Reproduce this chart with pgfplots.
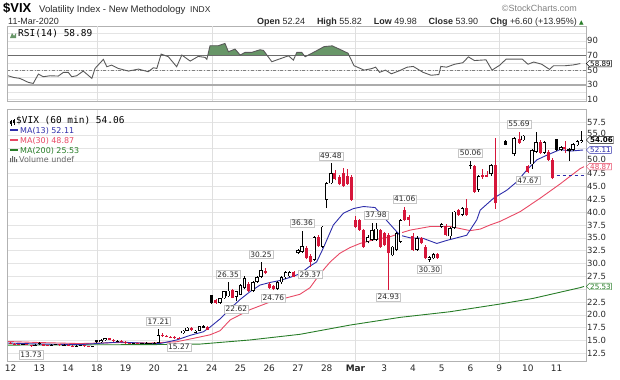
\documentclass[border=0pt]{standalone}
\usepackage{pgfplots}
\pgfplotsset{compat=1.18}
\usepackage{pgfplotstable}
\usepackage{fontspec}
\setmainfont{Liberation Sans}
\newfontfamily\dv{DejaVu Sans}
\newfontfamily\dvm{DejaVu Sans Mono}
\usetikzlibrary{shapes.symbols}
\definecolor{cred}{RGB}{214,22,58}
\definecolor{mablue}{RGB}{45,45,170}
\definecolor{mared}{RGB}{232,72,100}
\definecolor{magreen}{RGB}{40,125,40}
\definecolor{rsigreen}{RGB}{104,150,104}
\definecolor{gridc}{RGB}{228,228,228}
\definecolor{txt}{RGB}{40,40,40}

% hollow (close > open)
\pgfplotstableread{
x o h l c
0.429 14.2 14.4 14.1 14.3
0.857 14.0 14.3 13.9 14.2
1.429 14.0 14.3 13.95 14.2
1.571 14.2 14.35 14.1 14.3
1.857 14.1 14.3 14.0 14.2
2.286 13.9 14.1 13.8 14.0
2.429 14.0 14.1 13.9 14.05
2.857 13.75 13.9 13.7 13.85
3.143 14.7 15.3 14.6 15.1
3.286 15.0 15.5 14.9 15.4
3.714 14.8 15.0 14.7 14.95
4.286 14.4 14.6 14.3 14.5
4.571 14.35 14.5 14.3 14.45
4.857 14.4 14.6 14.35 14.5
5.000 14.4 14.8 14.35 14.6
5.143 14.6 17.21 14.5 16.1
6.000 16.4 17.0 16.3 16.9
6.143 16.9 17.6 16.8 17.5
6.429 16.5 17.0 16.4 16.9
6.571 16.9 17.9 16.8 17.8
6.714 17.5 18.0 17.4 17.8
7.286 22.3 23.3 22.2 23.2
7.429 23.2 24.7 23.1 24.6
7.571 23.6 26.35 23.4 24.7
7.857 23.5 24.7 22.62 24.6
8.000 23.9 26.0 23.8 25.8
8.143 25.2 27.6 25.0 27.2
8.429 24.6 26.6 24.4 26.4
8.571 26.4 27.6 26.2 27.4
8.714 27.4 30.25 27.2 28.7
9.286 25.0 26.5 24.9 26.3
9.429 26.3 27.5 26.1 27.3
9.571 27.3 28.5 27.0 28.3
9.714 27.5 28.6 27.3 28.3
10.000 32.0 32.8 31.8 32.6
10.143 32.3 36.36 32.1 33.4
10.571 30.7 35.4 30.5 35.2
10.857 33.3 37.4 33.1 37.2
11.000 42.4 45.8 40.8 45.6
11.143 45.6 49.48 45.4 47.6
12.429 34.2 35.5 33.9 35.2
12.571 34.6 37.8 34.4 36.5
12.714 34.6 37.98 34.4 36.8
13.286 31.6 33.5 31.4 33.3
13.429 32.6 36.1 32.4 35.9
13.571 34.2 38.7 34.0 38.5
14.143 32.7 35.3 32.5 35.0
14.571 30.7 31.5 30.30 31.3
14.714 31.0 32.0 30.8 31.9
15.000 37.2 37.9 37.0 37.6
15.286 35.3 37.1 34.8 36.9
15.429 36.9 40.3 36.7 40.1
15.714 39.5 41.0 39.2 40.8
16.000 48.9 50.06 48.5 49.2
16.286 44.3 47.2 44.0 47.0
16.714 47.4 49.3 47.0 49.2
17.510 51.3 54.6 51.0 54.4
17.830 54.0 55.1 53.8 54.9
18.143 49.3 52.3 48.5 52.1
18.286 51.8 55.6 51.5 53.7
18.571 51.6 53.9 51.4 53.7
19.143 52.1 52.8 51.9 52.6
19.429 52.0 52.5 49.98 52.3
19.571 52.2 53.4 51.9 53.2
19.714 53.0 54.1 52.8 53.9
19.857 53.7 55.82 53.5 54.06
}\upbars

% red filled (close < open)
\pgfplotstableread{
x o h l c
0.000 14.6 14.8 14.3 14.4
0.143 14.4 14.5 14.2 14.3
0.286 14.3 14.4 14.1 14.2
0.571 14.3 14.35 14.1 14.15
0.714 14.15 14.2 13.73 14.0
1.143 14.3 14.4 13.9 14.0
1.286 14.1 14.2 13.9 14.0
1.714 14.3 14.35 14.0 14.1
2.000 14.2 14.3 13.9 14.0
2.143 14.0 14.1 13.8 13.9
2.571 14.05 14.1 13.8 13.85
2.714 13.9 14.0 13.7 13.75
3.429 15.4 15.5 15.0 15.1
3.571 15.1 15.2 14.8 14.9
3.857 14.95 15.0 14.7 14.8
4.000 14.8 14.9 14.4 14.5
4.143 14.5 14.6 14.3 14.4
4.429 14.5 14.55 14.3 14.35
5.286 16.1 16.4 15.7 15.9
5.429 15.9 16.1 15.6 15.7
5.571 15.7 15.9 15.4 15.6
5.714 15.6 15.8 15.3 15.4
5.857 15.4 15.6 15.27 15.35
6.286 17.5 17.6 16.9 17.1
6.857 17.6 17.8 17.0 17.1
7.143 22.9 23.0 22.2 22.3
7.714 24.9 25.1 23.2 23.3
8.286 26.1 26.3 24.5 24.6
8.857 28.6 29.1 27.9 28.2
9.000 26.0 26.3 25.0 25.2
9.143 25.6 25.9 24.76 25.0
9.857 28.4 28.6 27.3 27.4
10.286 33.0 33.5 30.8 31.0
10.429 31.5 31.8 29.37 30.3
10.714 35.2 35.5 33.2 33.4
11.286 47.6 48.2 46.2 46.4
11.429 46.9 47.2 45.2 45.4
11.571 47.6 48.7 44.9 45.1
11.714 47.0 48.4 45.3 45.5
11.857 46.9 47.3 42.2 42.4
12.000 38.4 39.3 37.0 37.2
12.143 38.4 38.6 36.4 36.6
12.286 36.5 36.7 33.1 33.3
12.857 36.5 36.8 33.1 33.3
13.000 35.9 36.2 33.4 33.6
13.143 35.6 36.0 24.93 32.0
13.714 40.4 41.06 38.3 38.5
13.857 39.1 39.5 37.4 38.5
14.000 35.3 36.0 32.4 32.6
14.286 34.9 35.1 33.7 33.9
14.429 33.3 33.6 30.8 31.0
14.857 31.9 32.0 30.9 31.0
15.143 37.4 37.7 35.3 35.5
15.571 40.4 40.6 39.3 39.5
15.857 40.8 42.6 39.3 39.5
16.143 48.9 49.2 43.8 44.0
16.429 47.3 48.5 46.5 46.9
16.571 47.2 48.0 46.8 46.9
16.857 49.2 54.4 40.7 41.7
17.690 54.2 55.69 53.3 53.5
18.000 48.9 49.2 47.67 47.9
18.429 53.7 54.0 51.4 51.6
18.714 51.8 52.2 50.0 50.2
18.857 50.2 50.5 46.4 46.6
19.286 52.6 53.9 51.5 52.3
}\dnbars

% black filled
\pgfplotstableread{
x o h l c
1.000 14.6 14.7 14.2 14.3
3.000 15.0 15.1 14.6 14.7
4.714 14.6 14.7 14.3 14.4
7.000 23.86 23.9 22.2 22.3
17.220 53.9 54.0 53.0 53.1
19.000 54.2 54.3 52.0 52.1
}\bkbars

\pgfplotstableread{
x y
-0.09 14.5
1.03 14.3
2.42 14.2
3.81 14.7
4.85 14.4
5.20 14.4
5.78 15.1
6.25 16.0
6.71 16.7
6.94 17.6
7.29 19.2
7.64 21.2
7.99 23.0
8.33 24.5
8.68 25.8
9.03 26.3
9.38 26.7
9.73 27.3
10.07 28.0
10.42 29.5
10.65 30.3
10.88 33.0
11.23 37.5
11.58 39.8
11.93 40.7
12.28 41.1
12.68 40.9
12.97 39.1
13.32 36.9
13.55 35.5
13.90 35.0
14.35 34.9
14.83 33.9
15.18 34.5
15.87 35.5
16.22 38.5
16.34 40.4
16.80 42.7
17.27 44.3
17.61 45.9
17.96 48.2
18.31 50.2
18.66 51.1
19.12 52.2
19.47 51.9
19.92 52.11
}\maA

\pgfplotstableread{
x y
-0.09 14.8
1.00 14.6
2.40 14.4
3.80 14.6
4.85 14.5
5.78 14.75
6.35 15.4
6.94 16.1
7.29 16.9
7.64 19.0
8.33 21.0
9.03 22.5
9.73 23.5
10.07 24.0
10.42 25.3
10.77 28.0
11.12 30.3
11.46 32.0
11.81 33.1
12.16 33.9
12.62 34.6
13.20 35.2
13.55 35.9
13.90 36.5
14.60 37.2
15.30 37.2
15.99 36.4
16.34 36.7
16.68 37.5
17.03 38.2
17.73 40.1
18.42 42.7
19.12 45.5
19.82 48.5
19.95 48.87
}\maB

\pgfplotstableread{
x y
-0.09 14.1
5.00 14.2
6.60 14.3
8.33 15.1
10.07 16.2
11.81 18.0
13.55 19.5
15.29 20.6
17.03 22.1
18.18 23.2
19.82 25.3
19.95 25.53
}\maC

\pgfplotstableread{
x y
-0.08 42.3
0.10 40.1
0.33 38.7
0.62 33.3
0.79 31.9
0.97 44.6
1.14 41.0
1.37 42.3
1.66 41.9
1.84 46.9
2.01 46.9
2.13 41.0
2.30 42.3
2.53 48.7
2.83 38.7
2.94 52.3
3.23 64.6
3.35 54.6
3.52 56.8
3.75 52.3
4.10 48.7
4.45 51.4
4.79 47.8
4.97 53.2
5.09 52.3
5.24 71.8
5.49 68.2
5.78 54.6
5.96 70.5
6.25 62.3
6.53 68.6
6.77 67.3
6.83 64.6
6.94 83.2
7.23 83.2
7.46 86.3
7.58 75.0
7.81 78.6
7.99 70.5
8.16 74.1
8.39 74.1
8.68 77.7
8.80 76.8
9.09 61.4
9.67 69.5
9.84 63.6
9.96 74.1
10.13 74.1
10.25 68.2
10.63 76.0
10.91 82.0
11.19 83.0
11.47 78.0
11.74 73.0
11.95 56.0
12.30 50.0
12.56 52.0
12.70 54.0
12.84 47.0
13.04 50.0
13.25 45.0
13.52 49.0
13.80 54.0
14.01 55.0
14.35 47.0
14.63 43.0
14.90 44.0
14.97 55.0
15.17 54.0
15.45 58.0
15.73 60.0
15.93 68.0
16.14 63.0
16.54 64.0
16.75 50.0
17.03 57.0
17.24 65.0
17.80 65.0
18.00 58.0
18.20 61.0
18.48 58.0
18.75 51.0
18.89 56.0
19.30 56.0
19.57 57.0
19.82 58.89
}\rsidata

\pgfplotsset{
  wick/.style={draw=none, mark=none, forget plot,
    error bars/.cd, y dir=plus, y explicit, error mark=none,
    error bar style={line width=0.6pt, draw=#1, solid}},
  body/.style 2 args={draw=none, mark=none, forget plot,
    error bars/.cd, y dir=plus, y explicit, error mark=none,
    error bar style={line width=#2, draw=#1, solid}},
  tfont/.style={font=\dv\fontsize{8.5}{10}\selectfont, text=txt, inner sep=1pt},
  annot/.style={draw=none, mark=none, forget plot, point meta=explicit symbolic, nodes near coords,
    every node near coord/.append style={anchor=#1, draw=gray!45, fill=white,
    inner sep=1.2pt, font=\dv\fontsize{7.5}{8}\selectfont, text=txt}},
}
\tikzset{
  rbox/.style={signal, signal to=west, draw=#1, fill=white, inner sep=0.6pt, text=#1,
    font=\dv\fontsize{7.2}{8}\selectfont, anchor=west},
}

\begin{document}
\begin{tikzpicture}[x=1bp,y=1bp]
\useasboundingbox (0,0) rectangle (620,379);

% ---------------- RSI panel ----------------
\begin{axis}[
  at={(7.5bp,278bp)}, anchor=south west, scale only axis,
  width=578.5bp, height=75bp,
  xmin=-0.105, xmax=20.02, ymin=8, ymax=110, clip=false,
  axis line style={gray!60},
  xtick=\empty,
  extra x ticks={3,7,12,17}, extra x tick labels={},
  extra x tick style={grid=major, major grid style={gray!25}},
  ytick={10,20,30,40,50,60,70,80,90,100},
  yticklabels={10,,30,,50,,70,,90,},
  yticklabel pos=right, ymajorgrids, grid style={gridc},
  yticklabel style={tfont},
  major tick length=0pt,
]
\begin{scope}
\clip (axis cs:-0.105,70) rectangle (axis cs:20.02,110);
\addplot[fill=rsigreen, draw=none, forget plot] table {\rsidata} \closedcycle;
\end{scope}
\addplot[gray!85!black, line width=0.9pt, forget plot] coordinates {(-0.105,70) (20.02,70)};
\addplot[gray, dash dot, line width=0.6pt, forget plot] coordinates {(-0.105,50) (20.02,50)};
\addplot[gray!65, line width=1.6pt, forget plot] coordinates {(-0.105,30) (20.02,30)};
\addplot[black!65, line width=0.9pt, forget plot] table {\rsidata};
\node[rbox=black] at (axis cs:20.02,58.89) {58.89};
\end{axis}

% ---------------- Price panel ----------------
\begin{axis}[
  at={(7.5bp,18bp)}, anchor=south west, scale only axis,
  width=578.5bp, height=251.5bp,
  xmin=-0.105, xmax=20.02, ymin=11, ymax=60, clip=false,
  axis line style={gray!60},
  xtick={0,1,2,3,4,5,6,7,8,9,10,11,12,13,14,15,16,17,18,19},
  xticklabels={12,13,14,18,19,20,21,24,25,26,27,28,\textbf{Mar},3,4,5,6,9,10,11},
  xticklabel style={font=\dv\fontsize{9}{10}\selectfont, text=txt},
  extra x ticks={3,7,12,17}, extra x tick labels={},
  extra x tick style={grid=major, major grid style={gray!25}},
  ytick={12.5,15,17.5,20,22.5,25,27.5,30,32.5,35,37.5,40,42.5,45,47.5,50,52.5,55,57.5},
  yticklabels={12.5,15.0,17.5,20.0,22.5,,27.5,30.0,32.5,35.0,37.5,40.0,42.5,45.0,47.5,,,,57.5},
  extra y ticks={50,55}, extra y tick labels={50.0,55.0},
  extra y tick style={yticklabel style={yshift=1.8bp}},
  yticklabel pos=right, ymajorgrids, grid style={gridc},
  yticklabel style={tfont},
  major tick length=0pt,
]
% moving averages
\addplot[magreen, line width=0.9pt, forget plot] table {\maC};
\addplot[mared, line width=0.9pt, forget plot] table {\maB};
\addplot[mablue, line width=0.9pt, forget plot] table {\maA};
\addplot[mablue, dashed, line width=0.8pt, forget plot] coordinates {(19.0,47.2) (20.02,47.2)};
% wicks
\addplot[wick=black] table[x=x, y=l, y error plus expr={\thisrow{h}-\thisrow{l}}] {\upbars};
\addplot[wick=cred] table[x=x, y=l, y error plus expr={\thisrow{h}-\thisrow{l}}] {\dnbars};
\addplot[wick=black] table[x=x, y=l, y error plus expr={\thisrow{h}-\thisrow{l}}] {\bkbars};
% bodies
\addplot[body={cred}{3pt}] table[x=x, y=c, y error plus expr={\thisrow{o}-\thisrow{c}}] {\dnbars};
\addplot[body={black}{3pt}] table[x=x, y=c, y error plus expr={\thisrow{o}-\thisrow{c}}] {\bkbars};
\addplot[body={black}{3.4pt}] table[x=x, y=o, y error plus expr={\thisrow{c}-\thisrow{o}}] {\upbars};
\addplot[body={white}{1.8pt}] table[x=x, y expr={\thisrow{o}+0.15}, y error plus expr={max(\thisrow{c}-\thisrow{o}-0.30,0)}] {\upbars};
% high annotations
\addplot[annot=south, every node near coord/.append style={yshift=3.5bp}]
  table[meta=lab] {
x y lab
5.143 17.21 17.21
7.571 26.35 26.35
8.714 30.25 30.25
10.143 36.36 36.36
11.143 49.48 49.48
12.714 37.98 37.98
13.714 41.06 41.06
16.000 50.06 50.06
17.690 55.69 55.69
};
% low annotations
\addplot[annot=north, every node near coord/.append style={yshift=-3.5bp}]
  table[meta=lab] {
x y lab
0.714 13.73 13.73
5.857 15.27 15.27
7.857 22.62 22.62
9.143 24.76 24.76
10.429 29.37 29.37
13.143 24.93 24.93
14.571 30.30 30.30
18.000 47.67 47.67
};
% right-hand value boxes
\node[rbox=black, font=\dv\bfseries\fontsize{7.2}{8}\selectfont] at (axis cs:20.02,54.06) {54.06};
\node[rbox=mablue] at (axis cs:20.02,52.11) {52.11};
\node[rbox=mared] at (axis cs:20.02,48.87) {48.87};
\node[rbox=magreen] at (axis cs:20.02,25.53) {25.53};
\end{axis}

% ---------------- Header ----------------
\node[anchor=base west, inner sep=0, font=\bfseries\fontsize{13}{14}\selectfont] at (3,367) {\$VIX};
\node[anchor=base west, inner sep=0, font=\fontsize{9.6}{11}\selectfont, text=txt] at (39,367) {Volatility Index - New Methodology};
\node[anchor=base west, inner sep=0, font=\fontsize{8.5}{10}\selectfont, text=txt] at (190,367) {INDX};
\node[anchor=base east, inner sep=0, font=\fontsize{9}{10}\selectfont, text=gray] at (577,368) {\copyright StockCharts.com};
\node[anchor=base west, inner sep=0, font=\fontsize{9}{10}\selectfont, text=txt] at (8,355) {11-Mar-2020};
\node[anchor=base east, inner sep=0, font=\fontsize{9}{10}\selectfont, text=txt] at (577,355)
  {\textbf{Open} 52.24\hspace{12bp}\textbf{High} 55.82\hspace{12bp}\textbf{Low} 49.98\hspace{12bp}\textbf{Close} 53.90\hspace{12bp}\textbf{Chg} +6.60 (+13.95\%)};
\node[anchor=base west, inner sep=0, font=\dv\fontsize{6}{7}\selectfont, text=magreen] at (579,355) {▲};

% RSI legend
\fill[rsigreen] (10,341) -- (12,346) -- (14,343) -- (16,346) -- (16,341) -- cycle;
\node[anchor=base west, inner sep=0, font=\dvm\fontsize{9.5}{10}\selectfont, text=black] at (18,343) {RSI(14) 58.89};

% price legend
\draw[black, line width=0.6pt] (11,253) -- (11,259) (14,254) -- (14,260);
\fill[black] (10,255) rectangle (12,258);
\fill[black] (13,256) rectangle (15,259);
\node[anchor=base west, inner sep=0, font=\dvm\fontsize{9.5}{10}\selectfont, text=black] at (16,256) {\$VIX (60 min) 54.06};
\draw[mablue, line width=1.2pt] (10,249) -- (18,249);
\node[anchor=base west, inner sep=0, font=\dv\fontsize{8}{9}\selectfont, text=mablue] at (20,246) {MA(13) 52.11};
\draw[mared, line width=1.2pt] (10,239) -- (18,239);
\node[anchor=base west, inner sep=0, font=\dv\fontsize{8}{9}\selectfont, text=mared] at (20,236) {MA(30) 48.87};
\draw[magreen, line width=1.2pt] (10,229) -- (18,229);
\node[anchor=base west, inner sep=0, font=\dv\fontsize{8}{9}\selectfont, text=magreen] at (20,226) {MA(200) 25.53};
\fill[gray!80!black] (10,217) rectangle (11,221) (12,217) rectangle (13,223) (14,217) rectangle (15,222) (16,217) rectangle (17,220);
\node[anchor=base west, inner sep=0, font=\dv\fontsize{8}{9}\selectfont, text=gray!80!black] at (19,217) {Volume undef};
\end{tikzpicture}
\end{document}
